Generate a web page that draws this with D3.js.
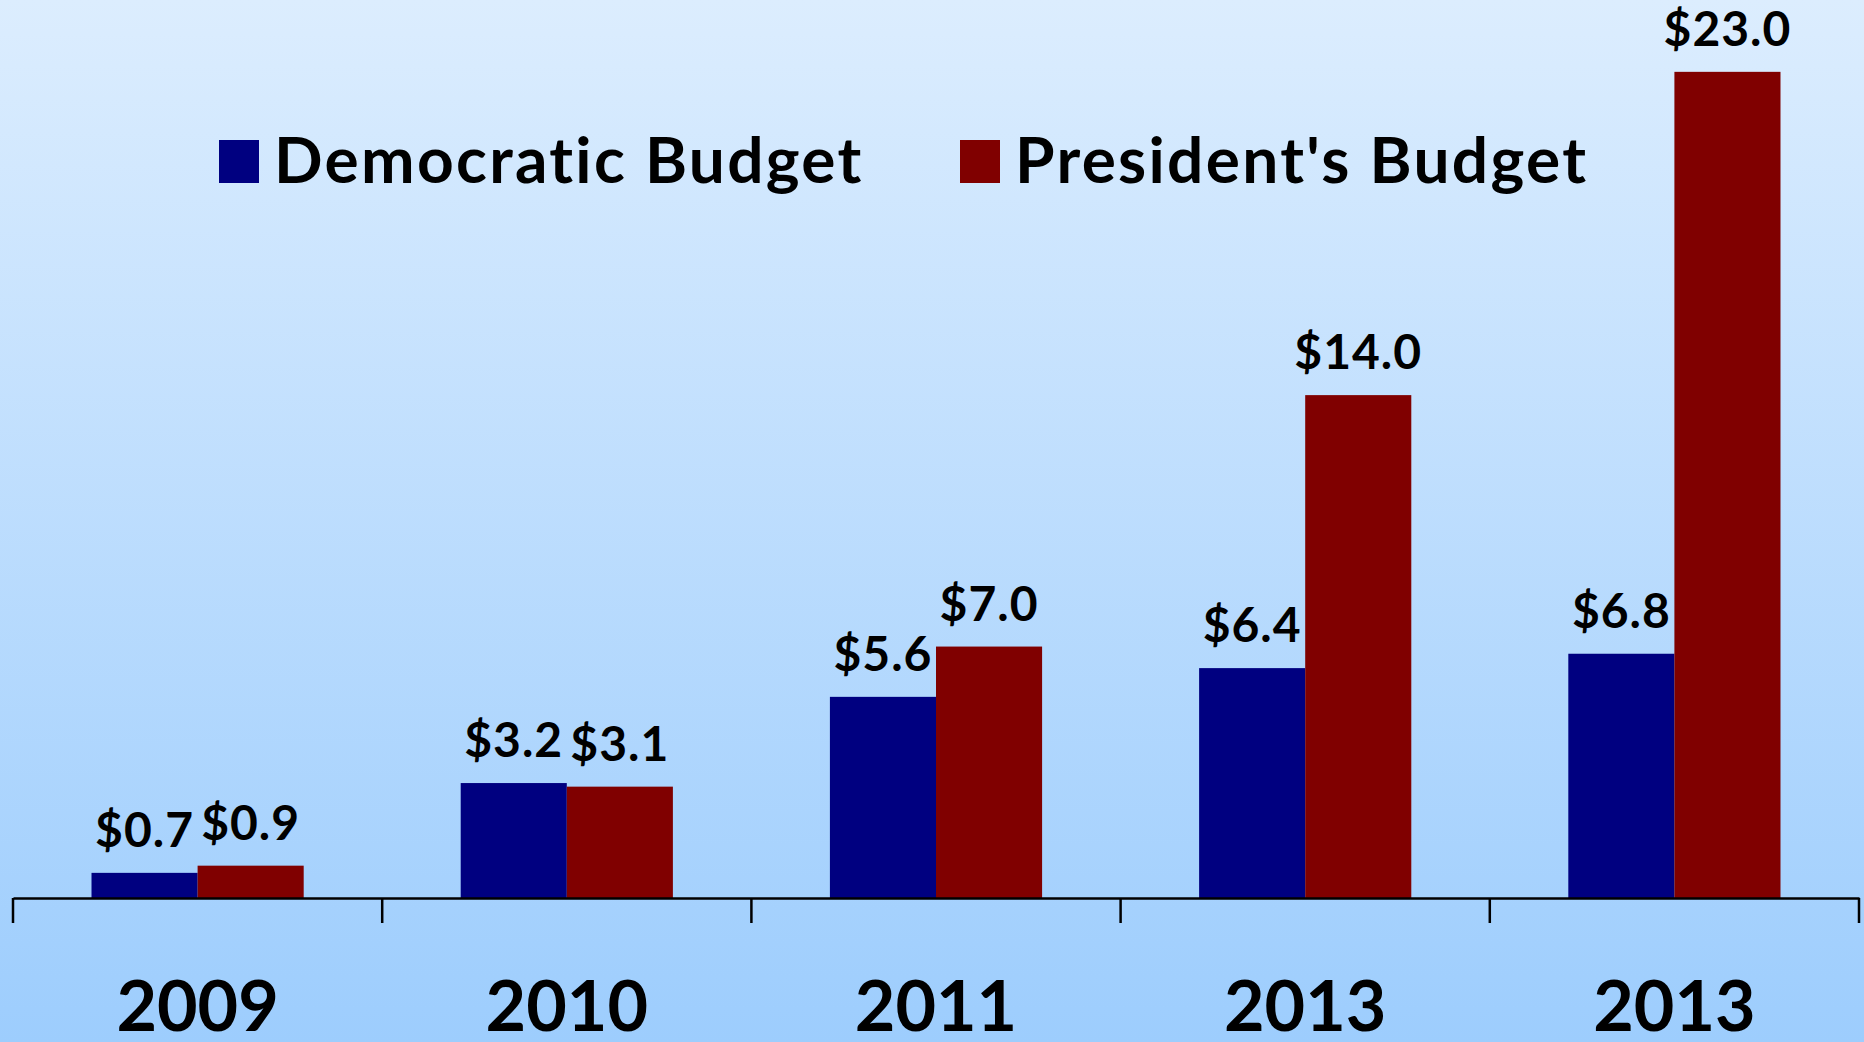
<!DOCTYPE html>
<html>
<head>
<meta charset="utf-8">
<script src="https://cdn.jsdelivr.net/npm/d3@7"></script>
<style>
  html, body { margin: 0; padding: 0; overflow: hidden; }
  text { font-family: Lato, "Open Sans", sans-serif; font-weight: 700; fill: #000; font-variant-ligatures: none; }
</style>
</head>
<body>
<script>
// 数据
var years = ["2009", "2010", "2011", "2013", "2013"];
var seriesNames = ["Democratic Budget", "President's Budget"];
var democratic = [0.7, 3.2, 5.6, 6.4, 6.8];
var president = [0.9, 3.1, 7.0, 14.0, 23.0];
var colors = ["#000080", "#800000"];

var width = 1864;
var height = 1042;

var svg = d3.select("body")
    .append("svg")
    .attr("width", width)
    .attr("height", height);

// 背景渐变
var defs = svg.append("defs");
var bg = defs.append("linearGradient")
    .attr("id", "bg")
    .attr("x1", 0).attr("y1", 0)
    .attr("x2", 0).attr("y2", 1);
bg.append("stop").attr("offset", "0%").style("stop-color", "#dcedfe");
bg.append("stop").attr("offset", "100%").style("stop-color", "#9dcdfd");

svg.append("rect")
    .attr("width", width)
    .attr("height", height)
    .attr("fill", "url(#bg)");

var axisY = 898;

// x轴比例尺（用索引，年份有重复）
var x0 = d3.scaleBand()
    .domain(d3.range(years.length))
    .range([13, 1859])
    .padding(0);

var x1 = d3.scaleBand()
    .domain([0, 1])
    .range([0, x0.bandwidth()])
    .paddingInner(0)
    .paddingOuter(0.74);

// y轴比例尺
var yScale = d3.scaleLinear()
    .domain([0, 25])
    .range([axisY, 0]);

var rows = years.map(function(y, i) {
    return { i: i, values: [democratic[i], president[i]] };
});

var groups = svg.selectAll("g.grp")
    .data(rows)
    .enter()
    .append("g")
    .attr("class", "grp")
    .attr("transform", function(d) { return "translate(" + x0(d.i) + ",0)"; });

groups.selectAll("rect")
    .data(function(d) { return d.values.map(function(v, k) { return { k: k, v: v }; }); })
    .enter()
    .append("rect")
    .attr("x", function(d) { return x1(d.k); })
    .attr("width", x1.bandwidth())
    .attr("y", function(d) { return yScale(d.v); })
    .attr("height", function(d) { return axisY - yScale(d.v); })
    .attr("fill", function(d) { return colors[d.k]; });

// 数值标签
groups.selectAll("text.val")
    .data(function(d) { return d.values.map(function(v, k) { return { k: k, v: v }; }); })
    .enter()
    .append("text")
    .attr("class", "val")
    .attr("x", function(d) { return x1(d.k) + x1.bandwidth() / 2; })
    .attr("y", function(d) { return yScale(d.v) - 26; })
    .attr("text-anchor", "middle")
    .style("font-size", "48px")
    .style("letter-spacing", "1px")
    .text(function(d) { return "$" + d.v.toFixed(1); });

// x轴
var xAxis = d3.axisBottom(x0)
    .tickSize(0)
    .tickSizeOuter(0)
    .tickFormat("");

var axisG = svg.append("g")
    .attr("transform", "translate(0," + axisY + ")")
    .call(xAxis);
axisG.select(".domain").attr("stroke", "#000").attr("stroke-width", 2.5);

// 分隔刻度
var bounds = d3.range(years.length + 1).map(function(i) {
    return i < years.length ? x0(i) : x0.range()[1];
});
axisG.selectAll("line.sep")
    .data(bounds)
    .enter()
    .append("line")
    .attr("class", "sep")
    .attr("x1", function(d) { return d; })
    .attr("x2", function(d) { return d; })
    .attr("y1", 0)
    .attr("y2", 25)
    .attr("stroke", "#000")
    .attr("stroke-width", 2.5);

// 年份标签
svg.selectAll("text.year")
    .data(years)
    .enter()
    .append("text")
    .attr("class", "year")
    .attr("x", function(d, i) { return x0(i) + x0.bandwidth() / 2; })
    .attr("y", 1031)
    .attr("text-anchor", "middle")
    .style("font-size", "70px")
    .text(function(d) { return d; });

// 图例
var legendX = [219, 960];
var legend = svg.selectAll("g.legend")
    .data(seriesNames)
    .enter()
    .append("g")
    .attr("class", "legend")
    .attr("transform", function(d, i) { return "translate(" + legendX[i] + ",140)"; });

legend.append("rect")
    .attr("width", 40)
    .attr("height", 43)
    .attr("fill", function(d, i) { return colors[i]; });

legend.append("text")
    .attr("x", 55)
    .attr("y", 43)
    .style("font-size", "64px")
    .style("letter-spacing", "2.3px")
    .text(function(d) { return d; });
</script>
</body>
</html>
